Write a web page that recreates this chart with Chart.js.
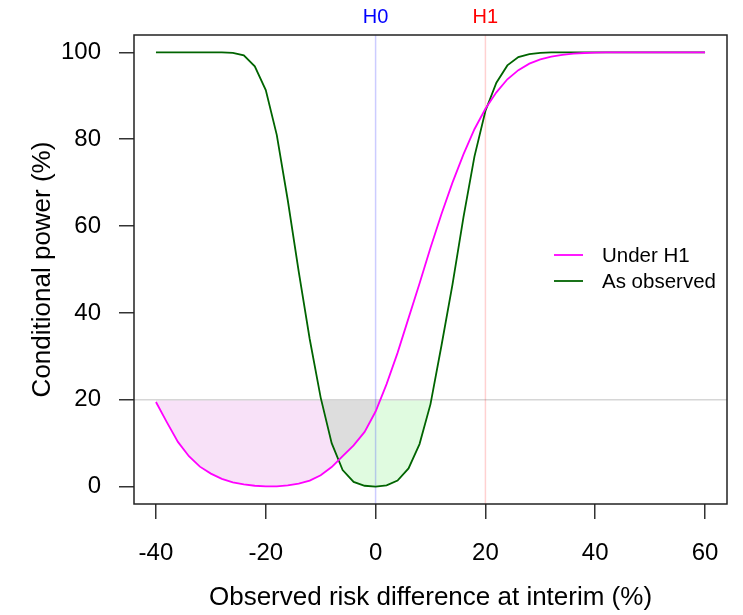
<!DOCTYPE html>
<html>
<head>
<meta charset="utf-8">
<script src="https://cdn.jsdelivr.net/npm/chart.js@4"></script>
<style>
    html, body { margin: 0; padding: 0; background: #fff; }
</style>
</head>
<body>
<canvas id="powerChart" width="743" height="615"></canvas>
<script>
// observed risk difference at interim (%)
const riskDiff = [-40, -38, -36, -34, -32, -30, -28, -26, -24, -22, -20, -18, -16, -14, -12, -10, -8, -6, -4, -2,
    0, 2, 4, 6, 8, 10, 12, 14, 16, 18, 20, 22, 24, 26, 28, 30, 32, 34, 36, 38, 40, 42, 44, 46, 48, 50, 52, 54, 56, 58, 60];

// conditional power (%)
const powerUnderH1 = [19.5, 14.8, 10.3, 7.0, 4.6, 3.0, 1.8, 1.0, 0.5, 0.2, 0.05, 0.05, 0.3, 0.7, 1.4, 2.6, 4.5, 7.0, 9.5, 12.6,
    17.3, 23.6, 30.8, 38.8, 46.8, 55.0, 62.8, 70.0, 76.5, 82.3, 87.0, 90.8, 93.8, 95.9, 97.4, 98.4, 99.0, 99.4, 99.7, 99.85,
    99.95, 100, 100, 100, 100, 100, 100, 100, 100, 100, 100];
const powerAsObserved = [100, 100, 100, 100, 100, 100, 100, 99.9, 99.3, 96.8, 91.3, 81.0, 66.0, 49.5, 34.0, 20.5, 10.0, 3.8, 1.1, 0.2,
    0, 0.3, 1.4, 4.2, 9.8, 19.0, 32.5, 46.5, 62.0, 76.0, 86.5, 93.0, 97.0, 98.9, 99.6, 99.9, 100, 100, 100, 100,
    100, 100, 100, 100, 100, 100, 100, 100, 100, 100, 100];

const xTicks = [-40, -20, 0, 20, 40, 60];
const yTicks = [0, 20, 40, 60, 80, 100];

const hypotheses = ['H0', 'H1'];
const hypothesisValues = [0, 20];
const powerThreshold = 20;

const family = "'Liberation Sans', Arial, sans-serif";

// reference lines, box, hypothesis labels and legend
const framePlugin = {
    id: 'framePlugin',
    beforeDatasetsDraw(chart) {
        const { ctx, chartArea: a, scales: { x, y } } = chart;
        ctx.save();
        ctx.lineWidth = 1.5;
        const yt = y.getPixelForValue(powerThreshold);
        ctx.strokeStyle = '#d6d6d6';
        ctx.beginPath();
        ctx.moveTo(a.left, yt);
        ctx.lineTo(a.right, yt);
        ctx.stroke();
        const lineColors = ['rgba(0,0,255,0.2)', 'rgba(255,0,0,0.18)'];
        hypothesisValues.forEach((v, i) => {
            const px = x.getPixelForValue(v);
            ctx.strokeStyle = lineColors[i];
            ctx.beginPath();
            ctx.moveTo(px, a.top);
            ctx.lineTo(px, a.bottom);
            ctx.stroke();
        });
        ctx.restore();
    },
    afterDraw(chart) {
        const { ctx, chartArea: a, scales: { x } } = chart;
        ctx.save();
        ctx.strokeStyle = '#222';
        ctx.lineWidth = 1.5;
        ctx.strokeRect(a.left, a.top, a.right - a.left, a.bottom - a.top);

        // H0 / H1 labels above the plot
        const textColors = ['#0000ff', '#ff0000'];
        ctx.font = '20px ' + family;
        ctx.textAlign = 'center';
        ctx.textBaseline = 'middle';
        hypotheses.forEach((h, i) => {
            ctx.fillStyle = textColors[i];
            ctx.fillText(h, x.getPixelForValue(hypothesisValues[i]), 17);
        });

        // legend
        ctx.font = '20.5px ' + family;
        ctx.textAlign = 'left';
        chart.data.datasets.forEach((ds, i) => {
            const ly = 255 + i * 26;
            ctx.strokeStyle = ds.borderColor;
            ctx.lineWidth = 1.8;
            ctx.beginPath();
            ctx.moveTo(554, ly);
            ctx.lineTo(583, ly);
            ctx.stroke();
            ctx.fillStyle = '#000';
            ctx.fillText(ds.label, 602, ly + 1);
        });
        ctx.restore();
    }
};

new Chart(document.querySelector('#powerChart'), {
    type: 'line',
    data: {
        datasets: [{
            label: 'Under H1',
            data: riskDiff.map((v, i) => ({ x: v, y: powerUnderH1[i] })),
            borderColor: '#ff00ff',
            borderWidth: 1.8,
            pointRadius: 0,
            tension: 0,
            fill: { target: { value: powerThreshold }, above: 'rgba(0,0,0,0)', below: 'rgba(196,0,196,0.118)' }
        }, {
            label: 'As observed',
            data: riskDiff.map((v, i) => ({ x: v, y: powerAsObserved[i] })),
            borderColor: '#006400',
            borderWidth: 1.8,
            pointRadius: 0,
            tension: 0,
            fill: { target: { value: powerThreshold }, above: 'rgba(0,0,0,0)', below: 'rgba(0,220,0,0.12)' }
        }]
    },
    options: {
        responsive: false,
        animation: false,
        layout: { padding: { top: 35, right: 16, left: 0, bottom: 0 } },
        plugins: {
            legend: { display: false },
            tooltip: { enabled: false },
            filler: { drawTime: 'beforeDatasetsDraw' }
        },
        scales: {
            x: {
                type: 'linear',
                min: -44,
                max: 64,
                afterBuildTicks: (s) => { s.ticks = xTicks.map(v => ({ value: v })); },
                afterFit: (s) => { s.height = 111; },
                grid: { drawOnChartArea: false, drawTicks: true, tickLength: 15, color: '#333', lineWidth: 1.5 },
                border: { display: false },
                ticks: { color: '#000', font: { size: 24, family: family }, padding: 20, maxRotation: 0, autoSkip: false },
                title: {
                    display: true,
                    text: 'Observed risk difference at interim (%)',
                    color: '#000',
                    font: { size: 26, family: family },
                    padding: { top: 0, bottom: 2 }
                }
            },
            y: {
                type: 'linear',
                min: -4,
                max: 104,
                afterBuildTicks: (s) => { s.ticks = yTicks.map(v => ({ value: v })); },
                afterFit: (s) => { s.width = 134; },
                grid: { drawOnChartArea: false, drawTicks: true, tickLength: 15, color: '#333', lineWidth: 1.5 },
                border: { display: false },
                ticks: { color: '#000', font: { size: 24, family: family }, padding: 18 },
                title: {
                    display: true,
                    text: 'Conditional power (%)',
                    color: '#000',
                    font: { size: 26, family: family },
                    padding: { top: 27, bottom: 0 }
                }
            }
        }
    },
    plugins: [framePlugin]
});
</script>
</body>
</html>
